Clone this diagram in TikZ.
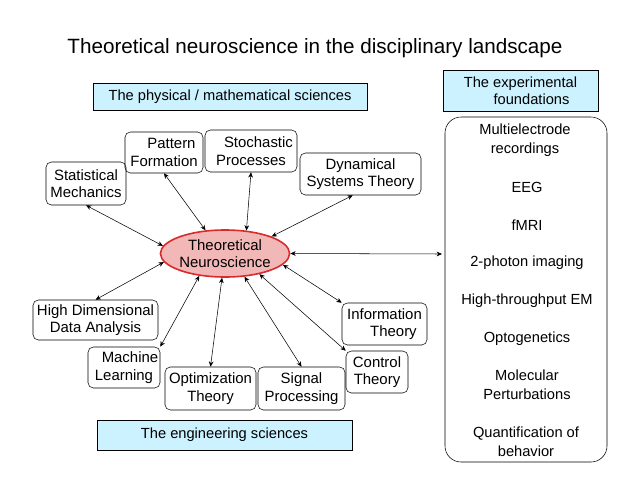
\documentclass[tikz,border=0pt]{standalone}
\usepackage{fontspec}
\setmainfont{Liberation Sans}
\usetikzlibrary{shapes.geometric,arrows.meta}
\definecolor{lb}{HTML}{CCF2FF}
\definecolor{ered}{HTML}{D92B2B}
\definecolor{efill}{HTML}{F2B8B8}
\begin{document}
\begin{tikzpicture}[x=0.75pt,y=-0.75pt,
  box/.style={draw,rounded corners=4pt,inner sep=0,align=center,font=\fontsize{11.2}{13}\selectfont},
  lab/.style={draw,fill=lb,inner sep=0,align=center,font=\fontsize{11}{13}\selectfont},
  item/.style={align=center,inner sep=0,font=\fontsize{11}{14}\selectfont},
  con/.style={{Stealth[length=4pt,width=3.5pt]}-{Stealth[length=4pt,width=3.5pt]},thin}]
\useasboundingbox (0,0) rectangle (638,493);
\node[font=\fontsize{15.5}{18}\selectfont] (title) at (315,48) {Theoretical neuroscience in the disciplinary landscape};
\node[lab,minimum width=274*0.75pt,minimum height=27*0.75pt] (phys) at (230,96.5) {The physical / mathematical sciences};
\node[lab,minimum width=155*0.75pt,minimum height=41*0.75pt] (expt) at (520.5,90.5) {The experimental\\\hspace*{1.5em}foundations};
\node[lab,minimum width=255*0.75pt,minimum height=30*0.75pt] (eng) at (224.5,435) {The engineering sciences};
\node[draw,rounded corners=12pt,minimum width=162*0.75pt,minimum height=345*0.75pt] (big) at (526,289.5) {};
\node[item] (i1) at (525,140) {Multielectrode\\recordings};
\node[item] (i2) at (527,187) {EEG};
\node[item] (i3) at (527,225) {fMRI};
\node[item] (i4) at (527,263) {2-photon imaging};
\node[item] (i5) at (527,301) {High-throughput EM};
\node[item] (i6) at (527,339) {Optogenetics};
\node[item] (i7) at (527,385) {Molecular\\Perturbations};
\node[item] (i8) at (526,442) {Quantification of\\behavior};
\node[draw=ered,very thick,fill=efill,ellipse,minimum width=124*0.75pt,minimum height=47*0.75pt,inner sep=0,align=center,font=\fontsize{11.2}{13}\selectfont] (tn) at (225,253.5) {Theoretical\\Neuroscience};
\node[box,minimum width=80*0.75pt,minimum height=43*0.75pt] (sm) at (86,183.5) {Statistical\\Mechanics};
\node[box,minimum width=78*0.75pt,minimum height=41*0.75pt] (pf) at (164,152.5) {\hspace*{1em}Pattern\\Formation};
\node[box,minimum width=92*0.75pt,minimum height=42*0.75pt] (sp) at (251,151) {\hspace*{1em}Stochastic\\Processes};
\node[box,minimum width=121*0.75pt,minimum height=42*0.75pt] (dy) at (360.5,174) {Dynamical\\Systems Theory};
\node[box,minimum width=125*0.75pt,minimum height=40*0.75pt] (hd) at (95.5,320) {High Dimensional\\Data Analysis};
\node[box,minimum width=72*0.75pt,minimum height=41*0.75pt] (ml) at (124,367.5) {\hspace*{0.8em}Machine\\Learning};
\node[box,minimum width=91*0.75pt,minimum height=43*0.75pt] (op) at (210.5,388.5) {Optimization\\Theory};
\node[box,minimum width=87*0.75pt,minimum height=43*0.75pt] (sg) at (301.5,388.5) {Signal\\Processing};
\node[box,minimum width=85*0.75pt,minimum height=42*0.75pt] (it) at (384.5,324) {Information\\\hspace*{1.2em}Theory};
\node[box,minimum width=62*0.75pt,minimum height=42*0.75pt] (ct) at (377,372) {Control\\Theory};
\coordinate (ex) at (442,254);
\draw[con] (sm.south) -- (tn.173);
\draw[con] (pf.south) -- (tn.130);
\draw[con] (sp.south) -- (tn.47);
\draw[con] (dy.250) -- (tn.20);
\draw[con] (tn.east) -- (ex);
\draw[con] (hd.north) -- (tn.188);
\draw[con] (ml.north east) -- (tn.221);
\draw[con] (op.north) -- (tn.263);
\draw[con] (sg.north) -- (tn.310);
\draw[con] (ct.north west) -- (tn.329);
\draw[con] (it.north west) -- (tn.349);
\end{tikzpicture}
\end{document}
